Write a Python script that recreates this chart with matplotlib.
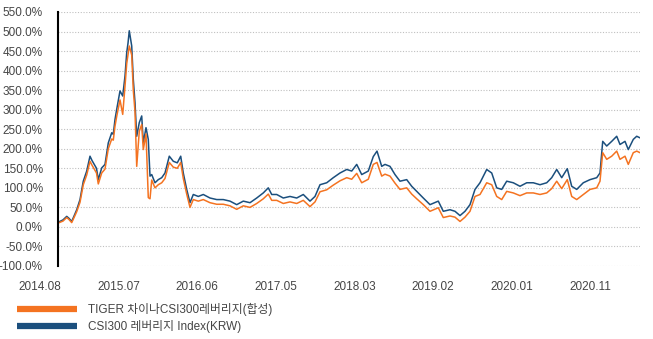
import matplotlib.pyplot as plt
from matplotlib.lines import Line2D

# months since the first label
months = [2.55, 3.22, 3.74, 4.06, 4.44, 4.76, 5.14, 5.6, 6.06, 6.54, 7.0, 7.28, 7.6, 7.91, 8.16,
          8.64, 9.1, 9.56, 10.04, 10.26, 10.5, 10.74, 11.2, 11.58, 11.9, 12.14, 12.32, 12.5, 12.84,
          13.06, 13.3, 13.54, 13.9, 14.24, 14.46, 14.84, 15.16, 15.4, 15.64, 16.1, 16.56, 17.04,
          17.5, 18.1, 18.66, 19.22, 19.7, 20.06, 20.54, 21.0, 21.46, 22.16, 22.86, 23.8, 24.74,
          25.66, 26.6, 27.54, 28.46, 29.4, 30.34, 31.26, 31.96, 32.44, 33.14, 34.06, 35.0, 35.94,
          36.86, 37.8, 38.5, 39.2, 40.14, 41.06, 42.0, 42.94, 43.64, 44.34, 45.04, 45.96, 46.66,
          47.18, 47.84, 48.3, 49.0, 49.7, 50.4, 51.34, 52.04, 52.74, 53.66, 54.6, 55.76, 56.46,
          57.4, 58.1, 58.8, 59.5, 60.2, 60.9, 61.6, 62.54, 63.24, 63.94, 64.64, 65.34, 66.26, 67.2,
          68.14, 69.06, 70.0, 70.94, 71.64, 72.34, 73.04, 73.82, 74.44, 75.14, 76.06, 77.0, 77.94,
          78.4, 78.78, 79.34, 80.04, 80.74, 81.2, 81.9, 82.36, 83.06, 83.54, 84.0]

csi300_idx = [12, 18, 27, 22, 14, 28, 44, 70, 117, 143, 181, 170, 160, 150, 121,
              151, 160, 215, 241, 237, 275, 301, 348, 335, 386, 446, 470, 502, 463,
              378, 318, 232, 267, 284, 215, 254, 224, 130, 134, 113, 121, 126,
              138, 181, 168, 164, 181, 138, 96, 62, 83, 78, 83, 74, 70,
              70, 66, 57, 66, 62, 74, 87, 100, 83, 83, 74, 78, 74,
              83, 66, 78, 108, 113, 126, 138, 147, 143, 160, 134, 143, 180,
              194, 155, 160, 155, 134, 117, 121, 104, 91, 74, 57, 66, 40,
              44, 40, 29, 40, 57, 96, 113, 147, 138, 100, 96, 117, 113, 104,
              113, 113, 108, 113, 126, 147, 126, 149, 104, 96, 113, 121, 126,
              138, 219, 207, 219, 232, 211, 219, 198, 224, 232, 228]

tiger_etf = [10, 15, 24, 19, 11, 24, 39, 63, 108, 133, 168, 158, 148, 138, 110,
             138, 148, 200, 225, 222, 258, 283, 325, 288, 360, 418, 440, 463, 440,
             350, 295, 155, 245, 262, 198, 238, 75, 72, 120, 100, 108, 113,
             124, 165, 153, 150, 165, 124, 84, 50, 70, 66, 70, 62, 58,
             58, 54, 45, 54, 50, 60, 72, 84, 68, 68, 60, 64, 60,
             68, 52, 64, 90, 95, 107, 118, 126, 122, 137, 113, 122, 160,
             165, 130, 135, 130, 112, 96, 100, 84, 72, 57, 40, 49, 24,
             28, 25, 14, 25, 40, 78, 83, 113, 108, 78, 70, 91, 87, 80,
             87, 87, 83, 87, 98, 117, 98, 121, 78, 70, 83, 96, 100,
             117, 190, 173, 181, 194, 173, 181, 160, 190, 194, 190]

tick_months = [0, 11, 22, 33, 44, 55, 66, 77]
tick_labels = ['2014.08', '2015.07', '2016.06', '2017.05', '2018.03', '2019.02', '2020.01', '2020.11']
y_ticks = list(range(-100, 551, 50))

orange = '#F47321'
blue = '#1B4F7D'
txt = '#454545'
fonts = ['Liberation Sans', 'Noto Sans CJK KR']

fig = plt.figure(figsize=(6.53, 3.39), dpi=100)
ax = fig.add_axes([58 / 653, 1 - 266 / 339, (640 - 58) / 653, (266 - 12) / 339])

ax.plot(months, csi300_idx, color=blue, lw=1.1)
ax.plot(months, tiger_etf, color=orange, lw=1.1)

ax.set_xlim(2.52, 84.0)
ax.set_ylim(-100, 550)
ax.set_yticks(y_ticks)
ax.set_yticklabels([f'{v:.1f}%' for v in y_ticks], family=fonts, fontsize=8.5, color=txt)
ax.tick_params(axis='y', length=0, pad=11)
ax.set_xticks([])
for m, lab in zip(tick_months, tick_labels):
    ax.text(m, -0.082, lab, transform=ax.get_xaxis_transform(), ha='center', va='center',
            family=fonts, fontsize=8.5, color=txt, clip_on=False)

ax.grid(axis='y', color='#c0c0c0', linestyle=(0, (1, 1.5)), lw=0.8)
for s in ['top', 'right', 'bottom']:
    ax.spines[s].set_visible(False)
ax.spines['left'].set_color('black')
ax.spines['left'].set_linewidth(1.5)

handles = [Line2D([], [], color=orange, lw=4.5, solid_capstyle='butt'),
           Line2D([], [], color=blue, lw=4.5, solid_capstyle='butt')]
labels = ['TIGER 차이나CSI300레버리지(합성)', 'CSI300 레버리지 Index(KRW)']
fig.legend(handles, labels, loc='upper left', bbox_to_anchor=(17 / 653, 1 - 303 / 339),
           frameon=False, borderpad=0, borderaxespad=0, handlelength=5.1, handletextpad=0.9,
           labelspacing=0.35, prop={'family': fonts, 'size': 8.5}, labelcolor=txt)

fig.savefig('out.png', dpi=100)
